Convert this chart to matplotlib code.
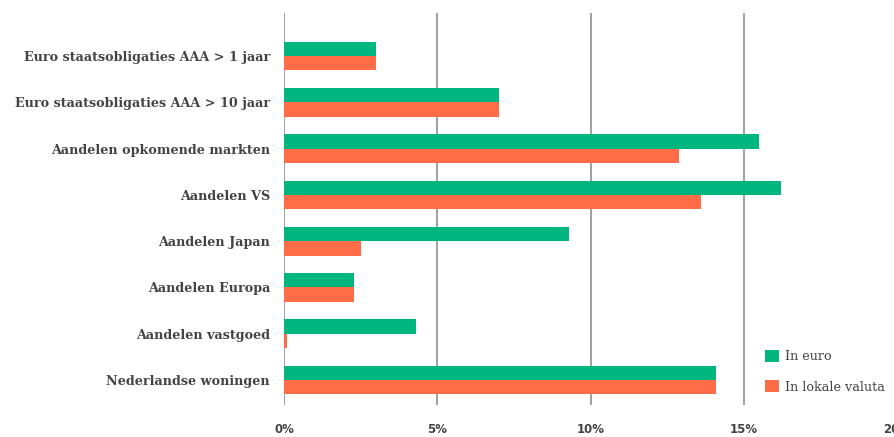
import matplotlib
matplotlib.use('Agg')
import matplotlib.pyplot as plt
import numpy as np

categories = [
    'Euro staatsobligaties AAA > 1 jaar',
    'Euro staatsobligaties AAA > 10 jaar',
    'Aandelen opkomende markten',
    'Aandelen VS',
    'Aandelen Japan',
    'Aandelen Europa',
    'Aandelen vastgoed',
    'Nederlandse woningen',
]
in_euro = [3.0, 7.0, 15.5, 16.2, 9.3, 2.3, 4.3, 14.1]
in_lokaal = [3.0, 7.0, 12.9, 13.6, 2.5, 2.3, 0.1, 14.1]
xticks = [0, 5, 10, 15, 20]
xtick_labels = ['0%', '5%', '10%', '15%', '20%']

green = '#00b57e'
orange = '#ff6c47'
grid_c = '#a0a0a0'
text_c = '#444444'

fig = plt.figure(figsize=(8.95, 4.37), dpi=100)
W, H = 895, 437
ax = fig.add_axes([284 / W, 1 - 405 / H, (897 - 284) / W, (405 - 13) / H])

y = np.arange(len(categories))
h = 0.31
ax.barh(y - h / 2, in_euro, height=h, color=green, label='In euro', zorder=2)
ax.barh(y + h / 2, in_lokaal, height=h, color=orange, label='In lokale valuta', zorder=2)

ax.set_xlim(0, 20)
ax.set_ylim(7.54, -0.93)
for s in ax.spines.values():
    s.set_visible(False)
for xv in xticks:
    ax.axvline(xv, color=grid_c, linewidth=1.4, zorder=1)

ax.set_yticks(y)
ax.set_yticklabels(categories, fontfamily='DejaVu Serif', fontweight='bold',
                   fontsize=9.2, color=text_c)
ax.tick_params(axis='y', length=0, pad=10)
ax.set_xticks(xticks)
ax.set_xticklabels(xtick_labels, fontfamily='DejaVu Sans', fontweight='bold',
                   fontsize=8.5, color=text_c)
ax.tick_params(axis='x', length=0, pad=13)

leg = ax.legend(loc='upper left', bbox_to_anchor=((753 - 284) / (897 - 284), (405 - 338) / (405 - 13)),
                frameon=False, prop={'family': 'DejaVu Serif', 'size': 9.2},
                handlelength=1.1, handleheight=1.1, labelspacing=1.35, handletextpad=0.5)
for t in leg.get_texts():
    t.set_color(text_c)

plt.savefig('out.png', dpi=100)
